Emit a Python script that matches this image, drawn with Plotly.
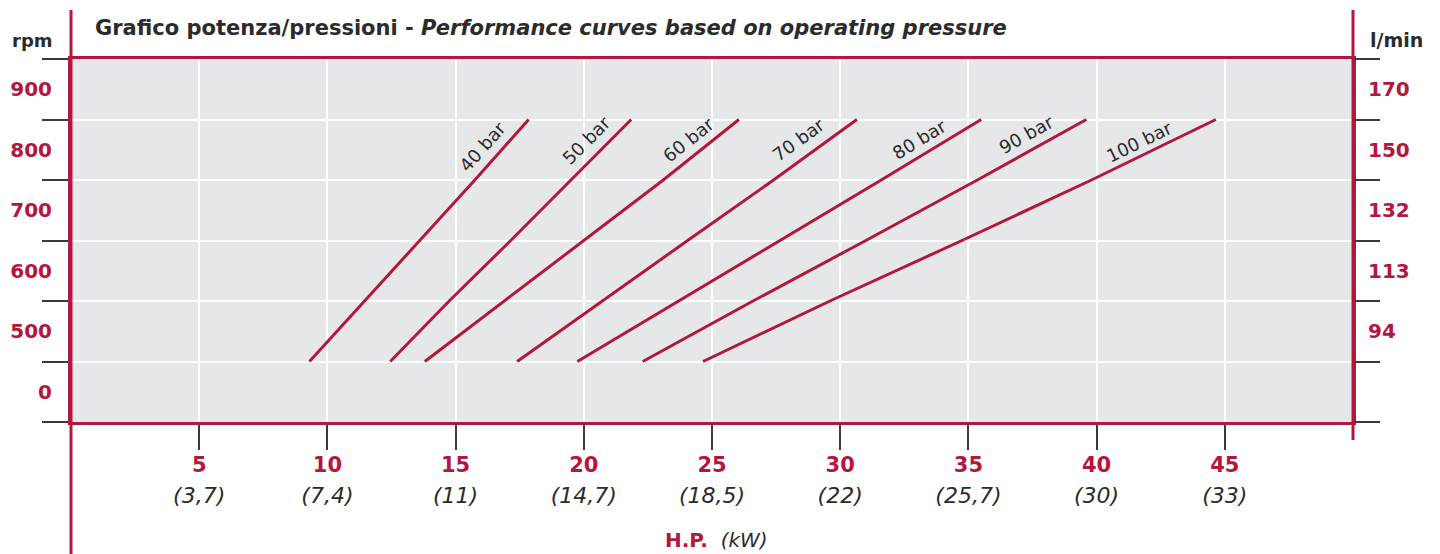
import math
import plotly.graph_objects as go

# ---------------- data ----------------
rpm = [500, 600, 700, 800, 900]
hp_40 = [9.3, 11.45, 13.6, 15.75, 17.85]
hp_50 = [12.45, 14.75, 17.15, 19.5, 21.85]
hp_60 = [13.8, 16.9, 20.0, 23.1, 26.05]
hp_70 = [17.4, 20.7, 24.05, 27.4, 30.65]
hp_80 = [19.75, 23.7, 27.7, 31.6, 35.5]
hp_90 = [22.3, 26.6, 31.0, 35.35, 39.6]
hp_100 = [24.65, 29.6, 34.75, 39.8, 44.65]
pressure_labels = ["40 bar", "50 bar", "60 bar", "70 bar", "80 bar", "90 bar", "100 bar"]

hp_ticks = [5, 10, 15, 20, 25, 30, 35, 40, 45]
kw_ticks = ["3,7", "7,4", "11", "14,7", "18,5", "22", "25,7", "30", "33"]
rpm_tick_labels = ["0", "500", "600", "700", "800", "900"]
lpm_tick_labels = ["94", "113", "132", "150", "170"]

# ---------------- style ----------------
RED = "#B3173E"
DARK = "#2B2B2B"
TICKC = "#3A3A3A"
BG = "#E6E7E9"
FONT = "DejaVu Sans"

OFF = 8  # page body margin added by the browser
W, H = 1440 - OFF, 554 - OFF
ML, MR, MT, MB = 71 - OFF, 87, 59 - OFF, 132
X_RANGE = [0, 50]
Y_RANGE = [400, 1000]
pw = W - ML - MR
ph = H - MT - MB
px_per_x = pw / (X_RANGE[1] - X_RANGE[0])
px_per_y = ph / (Y_RANGE[1] - Y_RANGE[0])

# label offsets (pixels) relative to the top end of each curve
label_shift = [(-46, -27), (-45, -21), (-50, -20), (-58, -20), (-62, -20), (-60, -15), (-76, -22)]

series = [hp_40, hp_50, hp_60, hp_70, hp_80, hp_90, hp_100]

fig = go.Figure()
for hp in series:
    fig.add_trace(go.Scatter(x=hp, y=rpm, mode="lines",
                             line=dict(color=RED, width=3),
                             showlegend=False, hoverinfo="skip"))

# invisible traces for the secondary axes
fig.add_trace(go.Scatter(x=[None], y=[None], yaxis="y2", showlegend=False))
fig.add_trace(go.Scatter(x=[None], y=[None], xaxis="x2", showlegend=False))

annotations = []
for hp, lab, (dx, dy) in zip(series, pressure_labels, label_shift):
    ang = math.degrees(math.atan2((rpm[-1] - rpm[-2]) * px_per_y,
                                  (hp[-1] - hp[-2]) * px_per_x))
    annotations.append(dict(x=hp[-1], y=rpm[-1], xref="x", yref="y",
                            text=lab, showarrow=False, textangle=-ang,
                            xshift=dx, yshift=dy,
                            font=dict(family=FONT, size=18, color=DARK)))


def px2paper_x(px):
    return (px - OFF - ML) / pw


def py2paper_y(py):
    return (H - MB - (py - OFF)) / ph


annotations += [
    dict(xref="paper", yref="paper", x=px2paper_x(93), y=py2paper_y(28),
         xanchor="left", yanchor="middle", showarrow=False,
         text="<b>Grafico potenza/pressioni - <i>Performance curves based on operating pressure</i></b>",
         font=dict(family=FONT, size=21, color=DARK)),
    dict(xref="paper", yref="paper", x=px2paper_x(32), y=py2paper_y(40),
         xanchor="center", yanchor="middle", showarrow=False,
         text="<b>rpm</b>", font=dict(family=FONT, size=18, color=DARK)),
    dict(xref="paper", yref="paper", x=px2paper_x(1397), y=py2paper_y(40),
         xanchor="center", yanchor="middle", showarrow=False,
         text="<b>l/min</b>", font=dict(family=FONT, size=19, color=DARK)),
    dict(xref="paper", yref="paper", x=px2paper_x(716), y=py2paper_y(540),
         xanchor="center", yanchor="middle", showarrow=False,
         text=f"<b>H.P.</b>  <i><span style='color:{DARK}'>(kW)</span></i>",
         font=dict(family=FONT, size=20, color=RED)),
]

shapes = [
    dict(type="line", xref="paper", yref="paper", x0=0, x1=0,
         y0=py2paper_y(556), y1=py2paper_y(10), line=dict(color=RED, width=3)),
    dict(type="line", xref="paper", yref="paper", x0=1, x1=1,
         y0=py2paper_y(440), y1=py2paper_y(10), line=dict(color=RED, width=3)),
]

label_vals = [v + 50 for v in range(Y_RANGE[0], Y_RANGE[1], 100)]

fig.update_layout(
    width=W, height=H,
    margin=dict(l=ML, r=MR, t=MT, b=MB, autoexpand=False),
    paper_bgcolor="white", plot_bgcolor=BG,
    annotations=annotations, shapes=shapes,
    xaxis=dict(range=X_RANGE, tickmode="array", tickvals=hp_ticks,
               ticktext=[f"<b>{h}</b>" for h in hp_ticks],
               ticks="outside", ticklen=25, tickwidth=1.5, tickcolor=TICKC,
               showgrid=True, gridcolor="white", gridwidth=2,
               showline=True, linecolor=RED, linewidth=3, mirror=True,
               zeroline=False, ticklabelstandoff=-3,
               tickfont=dict(family=FONT, size=21, color=RED), fixedrange=True),
    xaxis2=dict(range=X_RANGE, overlaying="x", side="bottom", anchor="y",
                tickmode="array", tickvals=hp_ticks,
                ticktext=[f"<i>({k})</i>" for k in kw_ticks],
                ticks="", showgrid=False, zeroline=False, showline=False,
                ticklabelstandoff=58,
                tickfont=dict(family=FONT, size=22, color=DARK)),
    yaxis=dict(range=Y_RANGE, tickmode="array", tickvals=label_vals,
               ticktext=[f"<b>{t}</b>" for t in rpm_tick_labels],
               ticks="", showgrid=False, zeroline=False,
               showline=True, linecolor=RED, linewidth=3, mirror=True,
               ticklabelstandoff=12,
               tickfont=dict(family=FONT, size=20, color=RED),
               minor=dict(tickmode="linear", tick0=Y_RANGE[0], dtick=100,
                          ticks="outside", ticklen=26, tickwidth=1.5, tickcolor=TICKC,
                          showgrid=True, gridcolor="white", gridwidth=2)),
    yaxis2=dict(range=Y_RANGE, overlaying="y", side="right", tickmode="array",
                tickvals=label_vals[1:],
                ticktext=[f"<b>{t}</b>" for t in lpm_tick_labels],
                ticks="", showgrid=False, zeroline=False, ticklabelstandoff=14,
                tickfont=dict(family=FONT, size=20, color=RED),
                minor=dict(tickmode="linear", tick0=Y_RANGE[0], dtick=100,
                           ticks="outside", ticklen=26, tickwidth=1.5, tickcolor=TICKC,
                           showgrid=False)),
)

fig.write_html("out.html")
